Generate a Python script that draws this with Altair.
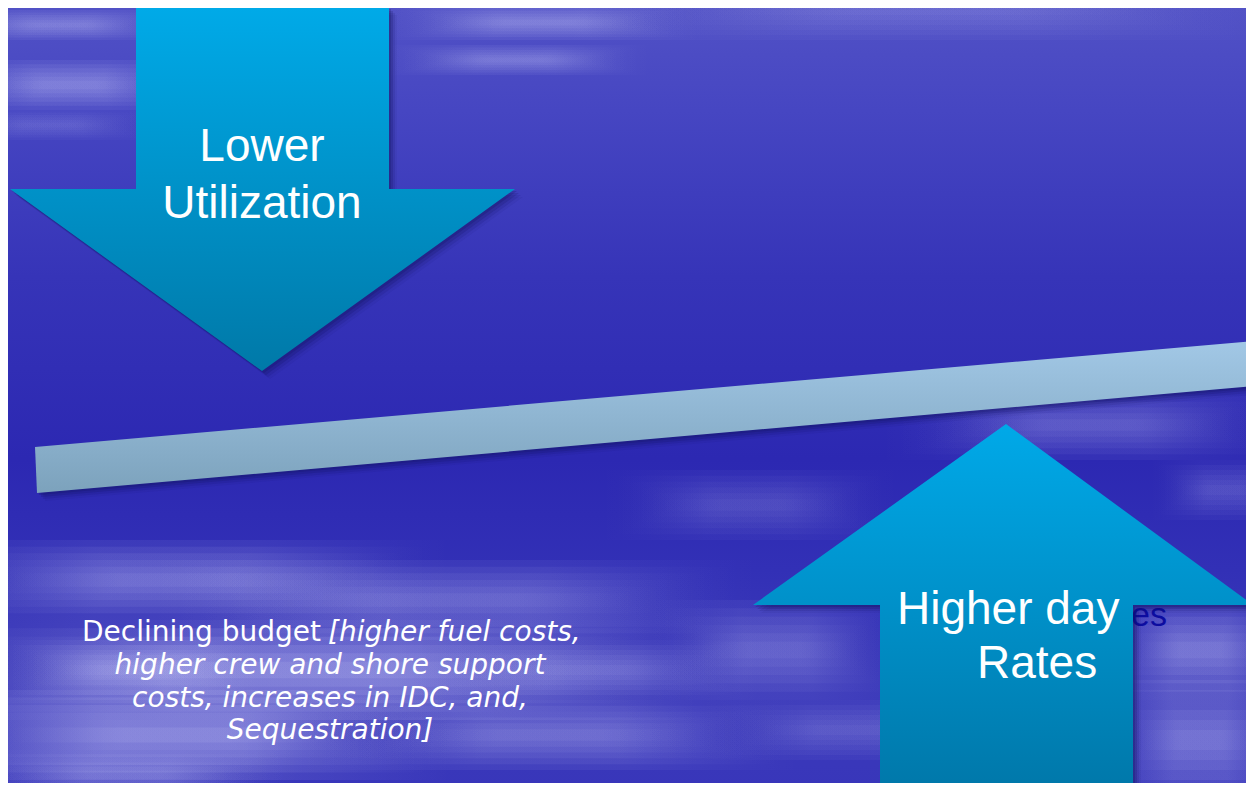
import altair as alt
import pandas as pd

# Slide size in pixels; the page adds an 8px margin, so the view shows slide
# coordinates 8..1246 x 8..783 to keep every shape at its reference position.
W, H, M = 1254, 791, 8

# ---- shapes (slide pixel coordinates) ----
down_x = [136, 389, 389, 515, 262, 10, 136]
down_y = [7, 7, 189, 189, 371, 189, 189]
up_x = [1006, 1253, 1133, 1133, 880, 880, 753]
up_y = [424, 605, 605, 788, 788, 605, 605]
beam_x = [35, 1254, 1254, 37]
beam_y = [447, 341, 386, 493]

# ---- soft cloud blobs of the background (extent and peak strength) ----
cl_x1 = [-100, 150, -100, -100, 300, -50, 600, 650, 880, 1100, 1100, -60, -60, 380, 380, 550, -60, 0, 420, 700, 1150]
cl_x2 = [450, 760, 700, 450, 800, 300, 900, 900, 1300, 1300, 1300, 180, 200, 700, 650, 1300, 160, 260, 760, 1000, 1300]
cl_y1 = [540, 560, 620, 690, 700, 750, 470, 600, 390, 600, 680, 10, 60, 5, 45, -20, 110, 640, 640, 700, 460]
cl_y2 = [620, 640, 720, 780, 770, 800, 540, 700, 460, 700, 800, 40, 110, 40, 75, 40, 140, 700, 700, 760, 520]
cl_op = [0.34, 0.28, 0.5, 0.5, 0.3, 0.28, 0.16, 0.24, 0.24, 0.36, 0.34, 0.3, 0.35, 0.32, 0.28, 0.16, 0.15, 0.3, 0.24, 0.18, 0.18]

# ---- texts ----
big_text = ["Lower", "Utilization"]
big_x = [262, 262]
big_y = [161, 218]
up_text = ["Higher day", "Rates"]
up_tx = [897, 977]
up_ty = [624, 678]
para_plain = "Declining budget"
para_first_italic = "[higher fuel costs,"
para_lines = ["higher crew and shore support", "costs, increases in IDC, and,", "Sequestration]"]
para_y = [641, 674, 707, 739]
hidden_text = "es"

xs = alt.Scale(domain=[M, W - M], nice=False, zero=False)
ys = alt.Scale(domain=[M, H - M], nice=False, zero=False, reverse=True)
X = alt.X("x:Q", scale=xs, axis=None)
Y = alt.Y("y:Q", scale=ys, axis=None)


def grad(c1, c2, vertical=True):
    return alt.Gradient(
        gradient="linear",
        stops=[alt.GradientStop(color=c1, offset=0), alt.GradientStop(color=c2, offset=1)],
        x1=0, y1=0, x2=0 if vertical else 1, y2=1 if vertical else 0,
    )


def poly_df(px, py):
    return pd.DataFrame({"x": px, "y": py, "i": list(range(len(px)))})


def poly(px, py, fill, **kw):
    return alt.Chart(poly_df(px, py)).mark_line(
        fill=fill, strokeWidth=0, strokeOpacity=0, clip=True, **kw
    ).encode(x=X, y=Y, order="i:Q")


def shadow(px, py):
    layers = []
    for off, op in [(2, 0.22), (4, 0.18), (6, 0.12), (8, 0.06)]:
        layers.append(poly(px, py, "#12125a", opacity=op, xOffset=off, yOffset=off))
    return layers


# background
bg = alt.Chart(pd.DataFrame({"x": [0], "x2": [W], "y": [0], "y2": [H]})).mark_rect(
    clip=True,
    fill=alt.Gradient(
        gradient="linear",
        stops=[
            alt.GradientStop(color="#5252c6", offset=0),
            alt.GradientStop(color="#4646c2", offset=0.14),
            alt.GradientStop(color="#3634b8", offset=0.35),
            alt.GradientStop(color="#2c28b2", offset=0.58),
            alt.GradientStop(color="#3230b6", offset=0.72),
            alt.GradientStop(color="#3c3aba", offset=0.86),
            alt.GradientStop(color="#3836ba", offset=1),
        ],
        x1=0, y1=0, x2=0, y2=1,
    ),
).encode(x=X, x2="x2:Q", y=Y, y2="y2:Q")

# each cloud is drawn as nested soft-ended strips so it fades vertically too
clouds = pd.DataFrame({"x1": cl_x1, "x2": cl_x2, "y1": cl_y1, "y2": cl_y2, "op": cl_op})
LEVELS = 6
rows = []
for _, c in clouds.iterrows():
    cx, cy = (c.x1 + c.x2) / 2, (c.y1 + c.y2) / 2
    hw, hh = (c.x2 - c.x1) / 2, (c.y2 - c.y1) / 2
    for k in range(LEVELS):
        fy = 1 - k / LEVELS
        fx = 1 - 0.08 * k
        rows.append({"x": cx - hw * fx, "x2": cx + hw * fx, "y": cy - hh * fy, "y2": cy + hh * fy,
                     "op": c.op / LEVELS * 1.3})
strips = pd.DataFrame(rows)

streaks = alt.Chart(strips).mark_rect(
    clip=True,
    fill=alt.Gradient(
        gradient="linear",
        stops=[
            alt.GradientStop(color="rgba(215,215,255,0)", offset=0),
            alt.GradientStop(color="rgba(215,215,255,1)", offset=0.35),
            alt.GradientStop(color="rgba(215,215,255,1)", offset=0.65),
            alt.GradientStop(color="rgba(215,215,255,0)", offset=1),
        ],
        x1=0, y1=0, x2=1, y2=0,
    ),
).encode(x=X, x2="x2:Q", y=Y, y2="y2:Q", opacity=alt.Opacity("op:Q", scale=None))

hidden = alt.Chart(pd.DataFrame({"x": [1167], "y": [626], "t": [hidden_text]})).mark_text(
    align="right", baseline="alphabetic", font="Liberation Sans", fontSize=34, color="#0c0ca0", clip=True
).encode(x=X, y=Y, text="t:N")

beam = poly(beam_x, beam_y, grad("#a2c8e6", "#7ca2bc"))
down = poly(down_x, down_y, grad("#00aae8", "#0079a8"))
up = poly(up_x, up_y, grad("#00a9e8", "#0078aa"))

big = alt.Chart(pd.DataFrame({"x": big_x, "y": big_y, "t": big_text})).mark_text(
    align="center", baseline="alphabetic", font="Liberation Sans", fontSize=46, color="white"
).encode(x=X, y=Y, text="t:N")

uptxt = alt.Chart(pd.DataFrame({"x": up_tx, "y": up_ty, "t": up_text})).mark_text(
    align="left", baseline="alphabetic", font="Liberation Sans", fontSize=46, color="white"
).encode(x=X, y=Y, text="t:N")

p_plain = alt.Chart(pd.DataFrame({"x": [321], "y": [para_y[0]], "t": [para_plain]})).mark_text(
    align="right", baseline="alphabetic", font="DejaVu Sans", fontSize=28, color="white"
).encode(x=X, y=Y, text="t:N")

p_ital1 = alt.Chart(pd.DataFrame({"x": [328], "y": [para_y[0]], "t": [para_first_italic]})).mark_text(
    align="left", baseline="alphabetic", font="DejaVu Sans", fontSize=28, fontStyle="italic", color="white"
).encode(x=X, y=Y, text="t:N")

p_rest = alt.Chart(pd.DataFrame({"x": [330] * 3, "y": para_y[1:], "t": para_lines})).mark_text(
    align="center", baseline="alphabetic", font="DejaVu Sans", fontSize=28, fontStyle="italic", color="white"
).encode(x=X, y=Y, text="t:N")

layers = [bg, streaks, hidden] + shadow(beam_x, beam_y) + [beam] + shadow(down_x, down_y) + [down] \
    + shadow(up_x, up_y) + [up, big, uptxt, p_plain, p_ital1, p_rest]

chart = alt.layer(*layers).properties(
    width=W - 2 * M,
    height=H - 2 * M,
    padding=0,
    autosize=alt.AutoSizeParams(type="fit", contains="padding"),
    background="#3a38bc",
).configure_view(strokeWidth=0)

chart.save("out.html", embed_options={"renderer": "svg", "actions": False})
